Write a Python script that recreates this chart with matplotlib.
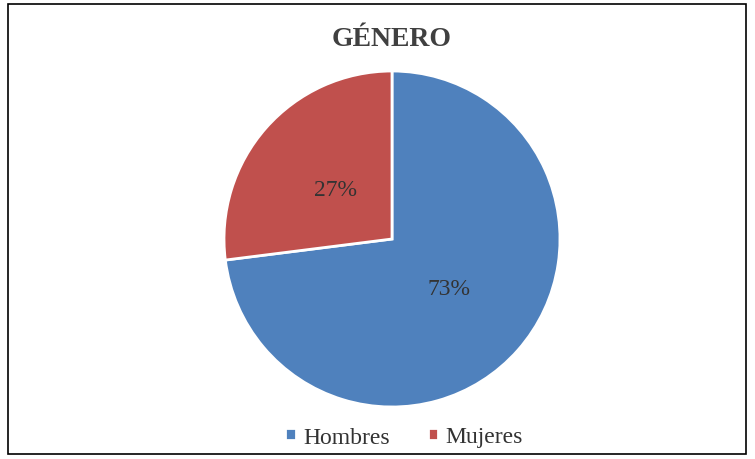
"""Pie chart: distribución por género."""

import matplotlib

matplotlib.use("Agg")
import matplotlib.pyplot as plt
from matplotlib.patches import Rectangle

labels = ["Hombres", "Mujeres"]
values = [73, 27]
colors = ["#4F81BD", "#C0504D"]

plt.rcParams["font.family"] = ["Liberation Serif", "DejaVu Serif"]

W, H = 755, 460
fig = plt.figure(figsize=(W / 100, H / 100), dpi=100)

# outer frame
fig.patches.append(Rectangle((8 / W, 5 / H), 738 / W, 450 / H, transform=fig.transFigure,
                             fill=False, edgecolor="black", linewidth=1.2))

cx, cy, r = 392, 240, 168
ax = fig.add_axes([(cx - r) / W, (H - cy - r) / H, 2 * r / W, 2 * r / H])
wedges, _, autotexts = ax.pie(
    values, colors=colors, startangle=90, counterclock=False,
    autopct="%1.0f%%", pctdistance=0.45,
    wedgeprops={"edgecolor": "white", "linewidth": 2},
    textprops={"fontsize": 17, "color": "#333333"},
)
ax.set_xlim(-1, 1)
ax.set_ylim(-1, 1)
ax.set_aspect("equal")

fig.text(cx / W, 1 - 40 / H, "GÉNERO", ha="center", va="center",
         fontsize=20, fontweight="bold", color="#404040")

fig.legend(wedges, labels, loc="center", bbox_to_anchor=(404 / W, 1 - 438 / H),
           ncol=2, frameon=False, fontsize=17, handlelength=0.45, handleheight=0.45,
           handletextpad=0.3, columnspacing=1.6, labelcolor="#333333")

fig.savefig("out.png", dpi=100)
